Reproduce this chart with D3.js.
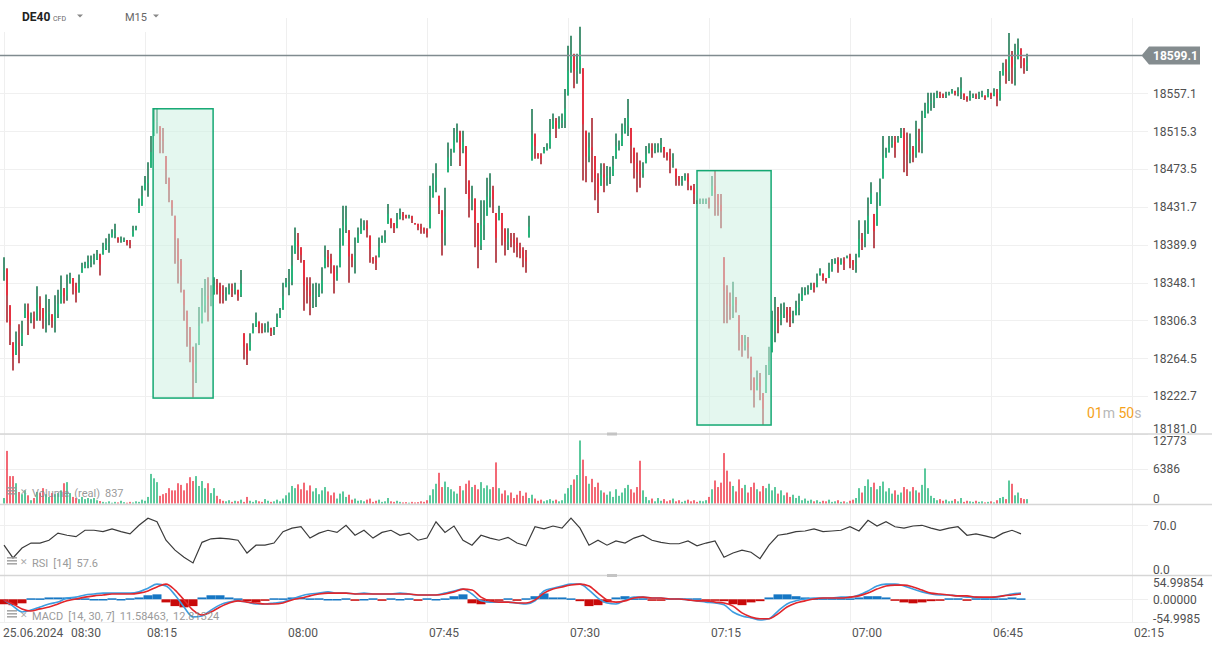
<!DOCTYPE html>
<html>
<head>
<meta charset="utf-8">
<script src="https://cdn.jsdelivr.net/npm/d3@7"></script>
<style>
  body { margin: 0; background: #fff; }
  svg { display: block; font-family: Roboto, "Liberation Sans", sans-serif; }
</style>
</head>
<body>
<svg id="chart"></svg>
<script>
// price bars, one per slot, left to right
var highs = [
  18376,18364,18323,18282,18294,18302,18306,18325,18325,18315,
  18316,18344,18333,18320,18335,18330,18313,18334,18340,18356,
  18342,18357,18359,18353,18348,18357,18370,18371,18378,18378,
  18380,18384,18380,18392,18397,18402,18407,18413,18398,18399,
  18398,18395,18395,18411,18411,18441,18455,18466,18481,18510,
  18541,18541,18521,18519,18488,18464,18439,18422,18397,18374,
  18340,18317,18299,18277,18281,18321,18342,18352,18354,18345,
  18354,18352,18348,18345,18343,18347,18347,18348,18340,18362,
  18292,18281,18292,18303,18315,18305,18303,18303,18305,18298,
  18299,18314,18320,18348,18353,18363,18389,18409,18403,18387,
  18373,18354,18354,18347,18348,18347,18365,18389,18384,18380,
  18367,18367,18408,18433,18433,18406,18380,18398,18409,18419,
  18417,18417,18400,18376,18378,18398,18400,18406,18435,18419,
  18414,18425,18430,18426,18423,18423,18422,18414,18413,18413,
  18409,18408,18455,18469,18480,18444,18428,18453,18503,18496,
  18519,18524,18516,18516,18499,18461,18455,18441,18414,18439,
  18439,18464,18469,18455,18425,18433,18425,18408,18408,18403,
  18403,18398,18392,18387,18384,18422,18540,18513,18491,18491,
  18498,18502,18529,18535,18530,18532,18535,18562,18610,18621,
  18601,18601,18631,18585,18516,18514,18530,18488,18469,18480,
  18480,18477,18476,18488,18513,18505,18524,18530,18551,18519,
  18497,18492,18483,18481,18499,18502,18502,18502,18502,18508,
  18498,18492,18496,18491,18474,18466,18466,18469,18469,18455,
  18457,18439,18441,18441,18441,18442,18466,18472,18446,18446,
  18376,18345,18337,18349,18332,18312,18290,18290,18288,18266,
  18243,18251,18248,18226,18257,18277,18317,18332,18321,18325,
  18326,18321,18321,18317,18328,18336,18343,18343,18345,18348,
  18348,18358,18364,18358,18353,18370,18374,18375,18376,18375,
  18376,18378,18380,18373,18380,18417,18403,18417,18442,18459,
  18424,18448,18463,18510,18497,18510,18510,18510,18510,18519,
  18519,18514,18513,18499,18527,18518,18538,18547,18558,18558,
  18558,18560,18559,18557,18559,18559,18562,18560,18564,18575,
  18557,18554,18560,18557,18557,18559,18560,18555,18562,18558,
  18563,18562,18582,18591,18595,18624,18604,18612,18618,18607,
  18596,18601
]
var lows = [
  18350,18304,18279,18251,18268,18259,18278,18309,18290,18303,
  18297,18306,18306,18297,18293,18301,18298,18293,18309,18325,
  18325,18328,18347,18335,18326,18337,18359,18364,18364,18365,
  18368,18373,18356,18379,18384,18381,18398,18397,18392,18392,
  18393,18389,18386,18399,18406,18425,18433,18450,18443,18475,
  18510,18513,18491,18491,18457,18437,18422,18369,18347,18337,
  18306,18277,18260,18221,18237,18279,18303,18315,18305,18322,
  18335,18335,18325,18325,18328,18335,18332,18335,18328,18332,
  18263,18257,18273,18292,18299,18292,18292,18293,18293,18289,
  18290,18299,18309,18318,18343,18334,18345,18380,18373,18370,
  18317,18325,18312,18320,18321,18332,18336,18364,18365,18358,
  18336,18350,18365,18389,18403,18348,18365,18358,18392,18402,
  18406,18398,18370,18369,18362,18376,18392,18392,18413,18408,
  18403,18408,18418,18417,18419,18419,18414,18412,18406,18402,
  18402,18398,18408,18442,18448,18424,18378,18389,18470,18477,
  18492,18503,18477,18491,18446,18420,18428,18387,18364,18384,
  18395,18422,18431,18425,18370,18417,18389,18378,18384,18387,
  18381,18376,18375,18365,18359,18398,18483,18485,18485,18479,
  18491,18494,18496,18518,18508,18518,18519,18519,18555,18580,
  18563,18568,18579,18461,18459,18481,18459,18439,18425,18455,
  18448,18455,18457,18466,18485,18494,18499,18513,18510,18480,
  18463,18448,18453,18464,18480,18491,18486,18491,18492,18492,
  18486,18483,18469,18475,18455,18455,18455,18461,18450,18450,
  18435,18435,18435,18435,18435,18430,18444,18422,18422,18408,
  18303,18303,18307,18309,18315,18273,18266,18273,18264,18229,
  18210,18229,18218,18191,18226,18246,18271,18282,18292,18301,
  18309,18304,18299,18303,18312,18312,18328,18334,18335,18340,
  18337,18343,18356,18350,18347,18353,18360,18369,18359,18368,
  18362,18375,18364,18362,18359,18376,18384,18387,18402,18435,
  18386,18411,18433,18463,18486,18492,18497,18486,18503,18508,
  18470,18466,18480,18481,18486,18492,18491,18530,18535,18538,
  18541,18552,18552,18552,18552,18555,18557,18555,18554,18551,
  18550,18548,18549,18552,18551,18551,18553,18550,18553,18551,
  18554,18543,18549,18577,18568,18571,18568,18566,18595,18585,
  18579,18582
]
var volumes = [
  1000,9600,5000,5000,3700,2100,1700,2400,1500,600,
  1000,2100,1900,2800,1700,1200,1900,1700,1900,2400,
  3700,3900,1900,1200,1000,800,1200,800,1000,800,
  1000,600,450,300,200,400,150,300,200,500,
  250,150,300,200,400,300,700,500,1200,5400,
  4600,3900,1400,1700,1900,2800,2400,2400,3700,3400,
  2400,3700,4800,4100,5000,3200,4100,2800,3700,1900,
  2800,1400,800,500,400,600,300,500,400,700,
  300,1200,500,300,600,400,300,800,500,300,
  400,700,400,900,1500,2000,3200,2800,3500,2600,
  3800,2400,3300,2200,2800,1700,2400,3000,2200,1500,
  2000,900,1800,2200,1200,1600,700,900,500,600,
  400,700,900,300,500,700,300,400,1000,400,
  300,500,300,200,250,150,300,200,250,400,
  300,600,1500,2600,3600,5600,3000,4000,3000,2600,
  2200,1800,3200,2400,3600,4200,3000,3400,2600,3900,
  2800,3300,2600,3000,7500,2800,1800,2400,1500,2000,
  1000,1600,2300,1400,2000,1000,1600,900,500,700,
  400,600,800,500,700,400,600,1800,2800,3400,
  4400,5200,11500,8000,5000,3600,4500,3000,3800,2400,
  2000,1600,2200,1200,2600,1400,2000,2800,3400,2600,
  2000,3000,7800,2400,1200,600,900,400,1000,500,
  800,400,600,900,400,600,300,500,700,400,
  600,300,500,400,600,1200,2600,4200,3000,3800,
  9200,6000,4000,3200,2200,4400,2800,3400,2000,3000,
  3800,2600,2200,3200,2800,3600,2400,3000,1800,2400,
  1500,2000,1200,1600,1000,1400,600,900,500,700,
  400,600,300,500,400,700,300,400,600,300,
  400,200,500,700,1000,2800,2000,3200,4400,3000,
  3800,2600,3200,4000,2200,2800,1800,2400,1600,2000,
  3000,2600,2200,3000,2400,2000,3400,6400,2800,1400,
  1000,600,800,500,700,400,500,800,400,1000,
  300,500,400,300,500,300,400,200,300,400,
  200,600,1000,1200,800,4200,3600,1500,2000,1000,
  800,800
]
// indicators, read every third bar
var rsiValues = [
  42,24,38,45,45,49,59,56,54,63,
  63,61,65,61,58,70,80,75,49,35,
  25,17,46,51,52,51,49,31,42,42,
  45,61,66,68,52,59,63,60,70,56,
  63,52,60,63,56,59,49,52,75,60,
  69,49,42,56,52,49,53,45,41,68,
  65,69,66,80,66,42,49,42,48,45,
  52,56,49,46,44,44,48,41,45,48,
  25,31,35,32,23,42,56,58,61,62,
  65,61,62,63,68,62,77,69,75,68,
  66,69,70,66,63,66,68,56,58,55,
  52,59,63,58
]
var macdLine = [
  -2,-22,-41,-35,-25,-15,-9,4,7,14,
  17,20,20,20,20,24,36,49,43,14,
  -25,-57,-54,-35,-18,-9,-5,-9,-15,-15,
  -12,-9,1,11,17,20,24,20,20,17,
  20,17,17,17,20,17,14,14,14,20,
  27,33,17,-5,-9,-9,-9,-12,-15,-5,
  27,36,43,49,49,30,4,-12,-15,-2,
  7,7,4,4,1,1,-2,-5,-9,-12,
  -18,-41,-54,-60,-67,-63,-38,-15,-5,1,
  4,4,4,7,7,14,27,43,49,49,
  43,33,24,17,14,14,11,7,7,4,
  7,11,17,20
]
var signalLine = [
  -2,-15,-31,-38,-31,-25,-15,-5,1,7,
  11,14,17,17,17,20,27,40,49,30,
  -2,-35,-51,-41,-25,-12,-5,-9,-12,-15,
  -15,-12,-2,4,11,17,20,20,20,17,
  17,17,17,17,17,17,14,14,14,17,
  24,33,30,7,-5,-9,-9,-12,-12,-2,
  20,33,40,46,49,43,20,-2,-9,-5,
  4,7,4,4,1,1,-2,-5,-5,-9,
  -12,-22,-44,-57,-63,-63,-47,-25,-12,-5,
  1,4,4,4,7,11,20,33,43,46,
  46,40,30,20,17,14,11,11,7,7,
  7,11,14,17
]
var macdHist = [
  -16,-19,-13,0,3,6,6,6,3,3,
  1,1,0,1,0,6,13,16,-10,-22,
  -26,-22,6,13,13,6,3,-6,-10,-3,
  0,3,6,6,3,0,1,1,0,-1,
  1,0,-1,0,1,0,-1,0,1,3,
  10,16,-13,-16,-10,-3,0,-3,0,10,
  19,6,6,3,-6,-22,-19,-10,6,10,
  3,0,-3,-3,0,0,3,0,-1,-1,
  -6,-16,-19,-10,-6,6,16,16,10,6,
  3,0,0,0,3,6,10,10,6,-3,
  -10,-13,-10,-6,-3,0,0,-3,0,3,
  3,3,6,3
]
var indicatorStep = 3

var priceTicks = [18557.1, 18515.3, 18473.5, 18431.7, 18389.9, 18348.1, 18306.3, 18264.5, 18222.7, 18181.0]
var lastPrice = 18599.1
var volumeTicks = [0, 6386, 12773]
var rsiTicks = [0, 70]
var macdTicks = [-54.9985, 0, 54.99854]
var macdTickLabels = ["-54.9985", "0.00000", "54.99854"]
var timeLabels = ["08:30", "08:15", "08:00", "07:45", "07:30", "07:15", "07:00", "06:45", "02:15"]
var dateLabel = "25.06.2024"
// highlighted zones: bar index span and price span
var zones = [
  { from: 49.7, to: 69.7, top: 18540.2, bottom: 18220.4 },
  { from: 231, to: 255.7, top: 18471.8, bottom: 18190.6 }
]

var dimensions = {
  width: 1212,
  height: 648,
  axisX: 1148
}

var svg = d3.select("#chart")
  .attr("width", dimensions.width)
  .attr("height", dimensions.height)

var xScale = d3.scaleLinear().domain([0, highs.length - 1]).range([4, 1027])
var gridX = d3.scaleLinear().domain([0, timeLabels.length - 1]).range([4, 1132])
var yPrice = d3.scaleLinear().domain([18181.0, 18599.1]).range([433.7, 55.5])
var yVol = d3.scaleLinear().domain([0, 12773]).range([503.5, 433.5])
var yRsi = d3.scaleLinear().domain([0, 100]).range([575, 504])
var yMacd = d3.scaleLinear().domain([-54.9985, 54.99854]).range([616.3, 582.3])

// grid
var grid = svg.append("g")
grid.selectAll(".vgrid")
  .data(timeLabels)
  .enter()
  .append("line")
  .attr("x1", (d, i) => gridX(i) + 0.5)
  .attr("x2", (d, i) => gridX(i) + 0.5)
  .attr("y1", 18)
  .attr("y2", 622)
  .attr("stroke", "#efefef")

grid.selectAll(".hgrid")
  .data(priceTicks)
  .enter()
  .append("line")
  .attr("x1", 0)
  .attr("x2", dimensions.axisX)
  .attr("y1", d => Math.round(yPrice(d)) + 0.5)
  .attr("y2", d => Math.round(yPrice(d)) + 0.5)
  .attr("stroke", "#f0f0f0")

var subGrid = [yVol(6386), yRsi(70), yMacd(0), 622]
grid.selectAll(".sgrid")
  .data(subGrid)
  .enter()
  .append("line")
  .attr("x1", 0)
  .attr("x2", dimensions.axisX)
  .attr("y1", d => Math.round(d) + 0.5)
  .attr("y2", d => Math.round(d) + 0.5)
  .attr("stroke", "#efefef")

// header background
svg.append("rect").attr("x", 0).attr("y", 0).attr("width", 172).attr("height", 32).attr("fill", "#fff")

// price bars
var bars = highs.map(function (h, i) {
  var mid = (h + lows[i]) / 2
  var prevMid = i > 0 ? (highs[i - 1] + lows[i - 1]) / 2 : mid
  var open = Math.max(Math.min(prevMid, h), lows[i])
  return { i: i, high: h, low: lows[i], open: open, close: mid, up: mid >= prevMid, vol: volumes[i] }
})

var priceG = svg.append("g")
priceG.selectAll("line")
  .data(bars)
  .enter()
  .append("line")
  .attr("x1", d => xScale(d.i))
  .attr("x2", d => xScale(d.i))
  .attr("y1", d => yPrice(d.high))
  .attr("y2", d => yPrice(d.low))
  .attr("stroke", d => d.up ? "#0f7049" : "#a3151f")
  .attr("stroke-width", 1.5)

priceG.selectAll("rect")
  .data(bars)
  .enter()
  .append("rect")
  .attr("x", d => xScale(d.i) - 0.75)
  .attr("width", 1.5)
  .attr("y", d => yPrice(Math.max(d.open, d.close)))
  .attr("height", d => Math.max(1, Math.abs(yPrice(d.open) - yPrice(d.close))))
  .attr("fill", d => d.up ? "#1fbd7c" : "#f4283b")

// zones
var zoneG = svg.append("g")
zoneG.selectAll("rect")
  .data(zones)
  .enter()
  .append("rect")
  .attr("x", d => xScale(d.from))
  .attr("y", d => yPrice(d.top))
  .attr("width", d => xScale(d.to) - xScale(d.from))
  .attr("height", d => yPrice(d.bottom) - yPrice(d.top))
  .attr("fill", "rgb(205,241,225)")
  .attr("fill-opacity", 0.55)
  .attr("stroke", "#14a873")
  .attr("stroke-width", 1.5)

// last price line
svg.append("line")
  .attr("x1", 0)
  .attr("x2", 1142)
  .attr("y1", yPrice(lastPrice))
  .attr("y2", yPrice(lastPrice))
  .attr("stroke", "#808b8f")
  .attr("stroke-width", 1.5)

// volume
svg.append("g")
  .selectAll("rect")
  .data(bars)
  .enter()
  .append("rect")
  .attr("x", d => xScale(d.i) - 0.7)
  .attr("width", 1.4)
  .attr("y", d => yVol(d.vol))
  .attr("height", d => yVol(0) - yVol(d.vol))
  .attr("fill", d => d.up ? "#17b374" : "#ee2a3b")

// rsi
var rsiLine = d3.line()
  .x((d, k) => xScale(k * indicatorStep))
  .y(d => yRsi(d))
svg.append("path")
  .datum(rsiValues)
  .attr("d", rsiLine)
  .attr("fill", "none")
  .attr("stroke", "#3b3b3b")
  .attr("stroke-width", 1.2)

// macd
svg.append("g")
  .selectAll("rect")
  .data(macdHist)
  .enter()
  .append("rect")
  .attr("x", (d, k) => xScale(k * indicatorStep) - 4.5)
  .attr("width", 9)
  .attr("y", d => d >= 0 ? yMacd(d) - (d === 0 ? 1 : 0) : yMacd(0))
  .attr("height", d => Math.max(1.5, Math.abs(yMacd(d) - yMacd(0))))
  .attr("fill", d => d >= 0 ? "#1677c4" : "#c90a0a")

var macdPath = d3.line()
  .x((d, k) => xScale(k * indicatorStep))
  .y(d => yMacd(d))
  .curve(d3.curveMonotoneX)
svg.append("path")
  .datum(macdLine)
  .attr("d", macdPath)
  .attr("fill", "none")
  .attr("stroke", "#3d9de0")
  .attr("stroke-width", 1.6)
svg.append("path")
  .datum(signalLine)
  .attr("d", macdPath)
  .attr("fill", "none")
  .attr("stroke", "#e2262b")
  .attr("stroke-width", 1.6)

// panel separators
var seps = [434, 504.5, 575.5]
svg.append("g")
  .selectAll("line")
  .data(seps)
  .enter()
  .append("line")
  .attr("x1", 0)
  .attr("x2", dimensions.width)
  .attr("y1", d => d)
  .attr("y2", d => d)
  .attr("stroke", "#d6d6d6")
  .attr("stroke-width", 1.5)
svg.append("g")
  .selectAll("rect")
  .data([432.5, 574])
  .enter()
  .append("rect")
  .attr("x", 607)
  .attr("y", d => d)
  .attr("width", 10)
  .attr("height", 3)
  .attr("fill", "#c4c4c4")

// right axes
function rightAxis(scale, values, format, nudge) {
  var g = svg.append("g")
    .attr("transform", `translate(${dimensions.axisX},0)`)
    .call(d3.axisRight(scale).tickValues(values).tickFormat(format).tickSize(0).tickPadding(5))
  g.select(".domain").remove()
  g.selectAll("text")
    .attr("fill", "#505050")
    .style("font-size", "12px")
    .style("font-family", "Roboto, sans-serif")
    .attr("dy", d => (0.32 * 12 + (nudge[d] || 0)) + "px")
  return g
}
var priceNudge = {}
priceNudge[18181.0] = -5
rightAxis(yPrice, priceTicks, d3.format(".1f"), priceNudge)
rightAxis(yVol, volumeTicks, d3.format("d"), { 0: -4.5, 12773: 7 })
rightAxis(yRsi, rsiTicks, d3.format(".1f"), { 0: -5 })
var macdNudge = {}
macdNudge[-54.9985] = 2
rightAxis(yMacd, macdTicks, (d, i) => macdTickLabels[i], macdNudge)

// last price tag
var tagY = yPrice(lastPrice)
svg.append("path")
  .attr("d", `M1141.5,${tagY} L1149,${tagY - 9} L1200,${tagY - 9} L1200,${tagY + 9} L1149,${tagY + 9} Z`)
  .attr("fill", "#848c8f")
svg.append("text")
  .attr("x", 1153)
  .attr("y", tagY + 4.5)
  .attr("fill", "#fff")
  .style("font-size", "12px")
  .style("font-weight", "bold")
  .text(d3.format(".1f")(lastPrice))

// countdown
var cd = svg.append("text")
  .attr("x", 1087)
  .attr("y", 418)
  .style("font-size", "14px")
cd.append("tspan").attr("fill", "#f5a21a").text("01")
cd.append("tspan").attr("fill", "#b8b8b8").text("m ")
cd.append("tspan").attr("fill", "#f5a21a").text("50")
cd.append("tspan").attr("fill", "#b8b8b8").text("s")

// time axis
var timeG = svg.append("g")
timeG.selectAll("text")
  .data(timeLabels)
  .enter()
  .append("text")
  .attr("x", (d, i) => i === 0 ? gridX(i) + 67 : gridX(i) + 2)
  .attr("y", 637)
  .attr("fill", "#555")
  .style("font-size", "12px")
  .text(d => d)
timeG.append("text")
  .attr("x", 3)
  .attr("y", 637)
  .attr("fill", "#555")
  .style("font-size", "12px")
  .text(dateLabel)

// header
svg.append("text").attr("x", 22).attr("y", 21).attr("fill", "#222")
  .style("font-size", "12px").style("font-weight", "bold").text("DE40")
svg.append("text").attr("x", 53).attr("y", 21).attr("fill", "#666")
  .style("font-size", "7px").text("CFD")
svg.append("text").attr("x", 125).attr("y", 21).attr("fill", "#666")
  .style("font-size", "11px").text("M15")
svg.append("g")
  .selectAll("path")
  .data([77, 153])
  .enter()
  .append("path")
  .attr("d", d => `M${d},14.5 L${d + 6},14.5 L${d + 3},17.5 Z`)
  .attr("fill", "#888")

// indicator captions
var captions = [
  { y: 497, parts: ["Volume", "(real)", "837"] },
  { y: 567, parts: ["RSI", "[14]", "57.6"] },
  { y: 620, parts: ["MACD", "[14, 30, 7]", "11.58463,", "12.81324"] }
]
captions.forEach(function (c) {
  var g = svg.append("g").attr("opacity", 0.85)
  g.selectAll("rect")
    .data([0, 3, 6])
    .enter()
    .append("rect")
    .attr("x", 7)
    .attr("y", d => c.y - 10 + d)
    .attr("width", 10)
    .attr("height", 1.6)
    .attr("fill", "#9a9a9a")
  g.append("text")
    .attr("x", 20)
    .attr("y", c.y - 2)
    .attr("fill", "#9a9a9a")
    .style("font-family", "DejaVu Sans")
    .style("font-size", "9px")
    .style("font-weight", "bold")
    .text("✕")
  var t = g.append("text")
    .attr("x", 32)
    .attr("y", c.y)
    .attr("fill", "#8a8a8a")
    .style("font-size", "11px")
  t.selectAll("tspan")
    .data(c.parts)
    .enter()
    .append("tspan")
    .attr("dx", (d, i) => i === 0 ? 0 : 5)
    .text(d => d)
})
</script>
</body>
</html>
